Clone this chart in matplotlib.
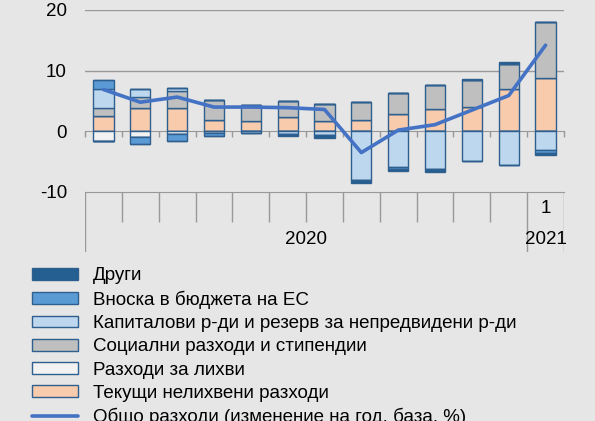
import numpy as np
import matplotlib.pyplot as plt

plt.rcParams['font.family'] = ['Liberation Sans', 'DejaVu Sans']
plt.rcParams['axes.unicode_minus'] = False

# months: Jan 2020 .. Jan 2021
months = ['', '', '', '', '', '', '', '', '', '', '', '', '1']
years = ['2020', '2021']

current = [2.6, 3.9, 3.85, 1.8, 1.65, 2.35, 1.7, 1.9, 2.8, 3.7, 4.0, 6.9, 8.85]
interest = [-1.6, -0.9, -0.4, -0.25, 0, 0, 0, 0, 0, 0, 0, 0, 0]
social = [1.3, 1.75, 2.8, 3.3, 2.75, 2.65, 2.8, 3.0, 3.6, 3.9, 4.4, 4.2, 9.2]
capital = [3.0, 1.3, 0.55, 0, -0.2, -0.5, -0.6, -8.0, -5.9, -6.15, -4.95, -5.5, -3.0]
eu = [1.5, -1.2, -1.2, -0.55, 0, 0, 0, 0, -0.3, 0, 0, 0, -0.55]
other = [0, 0, 0, 0, 0, -0.35, -0.45, -0.5, -0.3, -0.5, 0.15, 0.35, -0.4]
total = [6.9, 4.8, 5.65, 4.0, 4.0, 3.9, 3.6, -3.5, 0.2, 1.1, 3.5, 5.9, 14.2]

labels = ['Текущи нелихвени разходи', 'Разходи за лихви', 'Социални разходи и стипендии',
          'Капиталови р-ди и резерв за непредвидени р-ди', 'Вноска в бюджета на ЕС', 'Други']
colors = ['#f8cbad', '#f2f2f2', '#bfbfbf', '#bdd7ee', '#5b9bd5', '#255e91']
series = [current, interest, social, capital, eu, other]
line_label = 'Общо разходи (изменение на год. база, %)'

bg = '#e6e6e6'
edge = '#2f5f8f'
fs = 13.5
W, H = 595, 421
fig = plt.figure(figsize=(W / 100, H / 100), dpi=100, facecolor=bg)

left, right, top, bot = 85, 564, 10, 192
ax = fig.add_axes([left / W, 1 - bot / H, (right - left) / W, (bot - top) / H], facecolor=bg)

n = len(months)
x = np.arange(n) + 0.5
pos = np.zeros(n)
neg = np.zeros(n)
handles = []
for vals, c, lab in zip(series, colors, labels):
    v = np.array(vals)
    vp = np.where(v > 0, v, 0)
    vn = np.where(v < 0, v, 0)
    h = ax.bar(x, vp, 0.55, bottom=pos, color=c, edgecolor=edge, linewidth=1, label=lab, zorder=3)
    ax.bar(x, vn, 0.55, bottom=neg, color=c, edgecolor=edge, linewidth=1, zorder=3)
    pos += vp
    neg += vn
    handles.append(h)

ln, = ax.plot(x, total, color='#4472c4', lw=2.6, label=line_label, zorder=4, solid_capstyle='round')

ax.set_xlim(0, n)
ax.set_ylim(-10, 20)
for yv in [10, 20]:
    ax.axhline(yv, color='#999999', lw=1, zorder=1)
for s in ['left', 'right', 'top']:
    ax.spines[s].set_visible(False)
ax.spines['bottom'].set_position(('data', 0))
ax.spines['bottom'].set_color('#999999')
ax.spines['bottom'].set_zorder(2)
ax.set_xticks(np.arange(n + 1))
ax.set_xticklabels([])
ax.tick_params(axis='x', length=4.3, color='#999999', width=1)
ax.set_yticks([-10, 0, 10, 20])
ax.tick_params(axis='y', length=0, pad=13, labelsize=fs)

# category axis below
ax2 = fig.add_axes([left / W, 1 - 252 / H, (right - left) / W, 60 / H], facecolor=bg)
ax2.set_xlim(0, n)
ax2.set_ylim(0, 1)
for s in ['left', 'right', 'bottom']:
    ax2.spines[s].set_visible(False)
ax2.spines['top'].set_color('#999999')
ax2.set_yticks([])
ax2.xaxis.tick_top()
ax2.set_xticks(np.arange(1, n - 1))
ax2.set_xticklabels([])
ax2.tick_params(axis='x', direction='in', length=21.6, color='#999999', width=1)
for xb in [0, 12, 13]:
    ax2.axvline(xb, color='#999999', lw=1)
for i, m in enumerate(months):
    ax2.text(x[i], 0.72, m, ha='center', va='center', fontsize=fs)
ax2.text(6, 0.2, years[0], ha='center', va='center', fontsize=fs)
ax2.text(12.5, 0.2, years[1], ha='center', va='center', fontsize=fs)

leg_handles = handles[::-1] + [ln]
fig.legend(handles=leg_handles, labels=[h.get_label() for h in leg_handles],
           loc='upper left', bbox_to_anchor=(32 / W, 1 - 267.5 / H), frameon=False,
           fontsize=fs, handlelength=2.45, handleheight=0.59, handletextpad=0.8,
           labelspacing=0.33, borderpad=0, borderaxespad=0)

fig.savefig('out.png', dpi=100, facecolor=bg)
